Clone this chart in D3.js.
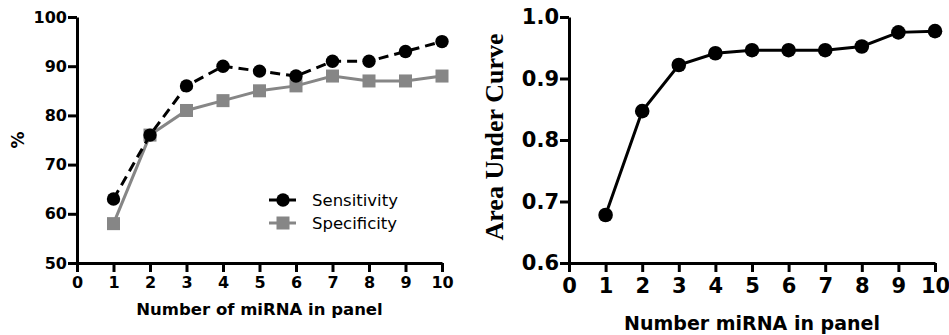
<!DOCTYPE html>
<html lang="en">
<head>
<meta charset="utf-8">
<title>miRNA panel</title>
<script src="https://cdn.jsdelivr.net/npm/d3@7"></script>
<style>
body { margin: 0; background: #fff; }
.axis path, .axis line { stroke: #000; stroke-width: 3; }
.axis text { font-family: "DejaVu Sans", sans-serif; font-weight: bold; fill: #000; }
</style>
</head>
<body>
<script>
// data
var panelSize = [1, 2, 3, 4, 5, 6, 7, 8, 9, 10];
var sensitivity = [63, 76, 86, 90, 89, 88, 91, 91, 93, 95];
var specificity = [58, 76, 81, 83, 85, 86, 88, 87, 87, 88];
var auc = [0.678, 0.847, 0.922, 0.941, 0.946, 0.946, 0.946, 0.952, 0.975, 0.977];
var xTicks = [0, 1, 2, 3, 4, 5, 6, 7, 8, 9, 10];
var pctTicks = [50, 60, 70, 80, 90, 100];
var aucTicks = [0.6, 0.7, 0.8, 0.9, 1.0];

var w = 949, h = 335;
var gray = "#868686";
var sans = "DejaVu Sans, sans-serif";

var svg = d3.select("body").append("svg")
  .attr("width", w)
  .attr("height", h);

// ---- left panel ----
var x1 = d3.scaleLinear().domain([0, 10]).range([77, 442]);
var y1 = d3.scaleLinear().domain([50, 100]).range([263, 17]);

var xa1 = svg.append("g").attr("class", "axis")
  .attr("transform", "translate(0," + y1(50) + ")")
  .call(d3.axisBottom(x1).tickValues(xTicks).tickSize(9).tickSizeOuter(0).tickPadding(5));
xa1.selectAll("text").style("font-size", "16px");

var ya1 = svg.append("g").attr("class", "axis")
  .attr("transform", "translate(" + x1(0) + ",0)")
  .call(d3.axisLeft(y1).tickValues(pctTicks).tickSize(9).tickSizeOuter(0).tickPadding(1));
ya1.selectAll("text").style("font-size", "16px");

var line1 = d3.line().x(function(d, i) { return x1(panelSize[i]); }).y(function(d) { return y1(d); });

svg.append("path").datum(specificity)
  .attr("d", line1)
  .attr("fill", "none").attr("stroke", gray).attr("stroke-width", 3);

svg.selectAll("rect.spec").data(specificity).enter().append("rect")
  .attr("class", "spec")
  .attr("x", function(d, i) { return x1(panelSize[i]) - 6.5; })
  .attr("y", function(d) { return y1(d) - 6.5; })
  .attr("width", 13).attr("height", 13)
  .attr("fill", gray);

svg.append("path").datum(sensitivity)
  .attr("d", line1)
  .attr("fill", "none").attr("stroke", "#000").attr("stroke-width", 3)
  .attr("stroke-dasharray", "10,6");

svg.selectAll("circle.sens").data(sensitivity).enter().append("circle")
  .attr("class", "sens")
  .attr("cx", function(d, i) { return x1(panelSize[i]); })
  .attr("cy", function(d) { return y1(d); })
  .attr("r", 6.7)
  .attr("fill", "#000");

svg.append("text")
  .attr("x", x1(5)).attr("y", 315)
  .attr("text-anchor", "middle")
  .style("font-family", sans)
  .style("font-weight", "bold").style("font-size", "16.5px")
  .text("Number of miRNA in panel");

svg.append("text")
  .attr("transform", "translate(24,140) rotate(-90)")
  .attr("text-anchor", "middle")
  .style("font-family", sans)
  .style("font-weight", "bold").style("font-size", "17px")
  .text("%");

// legend
var legend = [
  { name: "Sensitivity", color: "#000", shape: "circle", y: 200 },
  { name: "Specificity", color: gray, shape: "square", y: 223 }
];
legend.forEach(function(l) {
  svg.append("line")
    .attr("x1", 269).attr("x2", 296).attr("y1", l.y).attr("y2", l.y)
    .attr("stroke", l.color).attr("stroke-width", 3);
  if (l.shape === "circle") {
    svg.append("circle").attr("cx", 283).attr("cy", l.y).attr("r", 6.7).attr("fill", l.color);
  } else {
    svg.append("rect").attr("x", 276.5).attr("y", l.y - 6.5).attr("width", 13).attr("height", 13).attr("fill", l.color);
  }
  svg.append("text")
    .attr("x", 312).attr("y", l.y + 6)
    .style("font-family", sans)
    .style("font-size", "16.5px")
    .text(l.name);
});

// ---- right panel ----
var x2 = d3.scaleLinear().domain([0, 10]).range([569, 935]);
var y2 = d3.scaleLinear().domain([0.6, 1.0]).range([263, 17]);

var xa2 = svg.append("g").attr("class", "axis")
  .attr("transform", "translate(0," + y2(0.6) + ")")
  .call(d3.axisBottom(x2).tickValues(xTicks).tickSize(9).tickSizeOuter(0).tickPadding(6));
xa2.selectAll("text").style("font-size", "21px");

var ya2 = svg.append("g").attr("class", "axis")
  .attr("transform", "translate(" + x2(0) + ",0)")
  .call(d3.axisLeft(y2).tickValues(aucTicks).tickFormat(d3.format(".1f")).tickSize(9).tickSizeOuter(0).tickPadding(1));
ya2.selectAll("text").style("font-size", "21px");

var line2 = d3.line().x(function(d, i) { return x2(panelSize[i]); }).y(function(d) { return y2(d); });

svg.append("path").datum(auc)
  .attr("d", line2)
  .attr("fill", "none").attr("stroke", "#000").attr("stroke-width", 3);

svg.selectAll("circle.auc").data(auc).enter().append("circle")
  .attr("class", "auc")
  .attr("cx", function(d, i) { return x2(panelSize[i]); })
  .attr("cy", function(d) { return y2(d); })
  .attr("r", 7.3)
  .attr("fill", "#000");

svg.append("text")
  .attr("x", x2(5)).attr("y", 330)
  .attr("text-anchor", "middle")
  .style("font-family", sans)
  .style("font-weight", "bold").style("font-size", "19px")
  .text("Number miRNA in panel");

svg.append("text")
  .attr("transform", "translate(503,137) rotate(-90)")
  .attr("text-anchor", "middle")
  .style("font-family", "Liberation Serif, Times New Roman, serif")
  .style("font-weight", "bold").style("font-size", "26px")
  .text("Area Under Curve");
</script>
</body>
</html>
